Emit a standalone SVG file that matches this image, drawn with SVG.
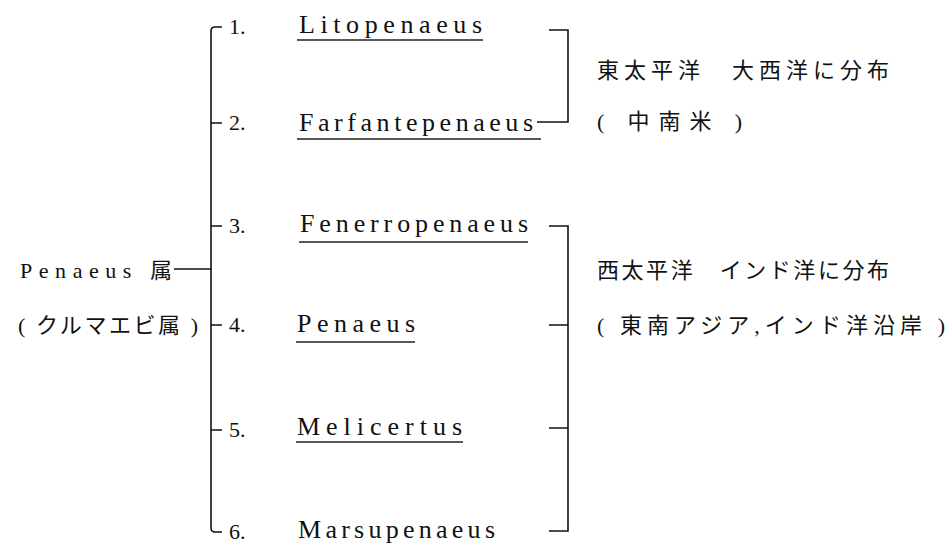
<svg xmlns="http://www.w3.org/2000/svg" width="951" height="545" viewBox="0 0 951 545">
<style>
.bg{fill:#fff}
.ln{stroke:#111;stroke-width:1.6;fill:none}
.ul{stroke:#222;stroke-width:1.3;fill:none}
.num{font-family:"Liberation Serif",serif;font-size:22px;fill:#111}
.nm{font-family:"Liberation Serif",serif;font-size:26px;fill:#111}
.jp{font-family:"Liberation Serif","Noto Sans CJK JP",serif;font-size:22px;fill:#111}
</style>
<rect class="bg" x="0" y="0" width="951" height="545"/>
<g id="genus">
<text class="jp" x="20" y="278" textLength="152" lengthAdjust="spacing">Penaeus 属</text>
<text class="jp" x="18" y="333" textLength="180" lengthAdjust="spacing">( クルマエビ属 )</text>
</g>
<g id="n1"><text class="num" x="229" y="34">1.</text><text class="nm" x="299" y="33" textLength="183" lengthAdjust="spacing">Litopenaeus</text><line class="ul" x1="297" y1="40" x2="483" y2="40"/></g>
<g id="n2"><text class="num" x="229" y="130">2.</text><text class="nm" x="299" y="131" textLength="234" lengthAdjust="spacing">Farfantepenaeus</text><line class="ul" x1="297" y1="139" x2="541" y2="139"/></g>
<g id="n3"><text class="num" x="229" y="233">3.</text><text class="nm" x="300" y="232" textLength="228" lengthAdjust="spacing">Fenerropenaeus</text><line class="ul" x1="299" y1="242" x2="528" y2="242"/></g>
<g id="n4"><text class="num" x="229" y="332">4.</text><text class="nm" x="297" y="332" textLength="118" lengthAdjust="spacing">Penaeus</text><line class="ul" x1="296" y1="342" x2="415" y2="342"/></g>
<g id="n5"><text class="num" x="229" y="437">5.</text><text class="nm" x="297" y="435" textLength="165" lengthAdjust="spacing">Melicertus</text><line class="ul" x1="296" y1="442" x2="463" y2="442"/></g>
<g id="n6"><text class="num" x="229" y="539">6.</text><text class="nm" x="298" y="538" textLength="197" lengthAdjust="spacing">Marsupenaeus</text></g>
<g id="r1">
<text class="jp" x="597" y="78" textLength="292" lengthAdjust="spacing">東太平洋　大西洋に分布</text>
<text class="jp" x="597" y="129" textLength="145" lengthAdjust="spacing">( 中南米 )</text>
</g>
<g id="r2">
<text class="jp" x="597" y="278" textLength="292" lengthAdjust="spacing">西太平洋　インド洋に分布</text>
<text class="jp" x="597" y="333" textLength="348" lengthAdjust="spacing">( 東南アジア,インド洋沿岸 )</text>
</g>
<g id="connectors">
<path class="ln" d="M174,269 H211"/>
<path class="ln" d="M222,27 H215 Q211,27 211,31 V528 Q211,532 215,532 H222"/>
<path class="ln" d="M211,123 H222 M211,226 H222 M211,325 H222 M211,430 H222"/>
<path class="ln" d="M549,30 H568 V122 H537"/>
<path class="ln" d="M549,226 H568 V531 H549 M549,325 H568 M549,428 H568"/>
</g>
</svg>
